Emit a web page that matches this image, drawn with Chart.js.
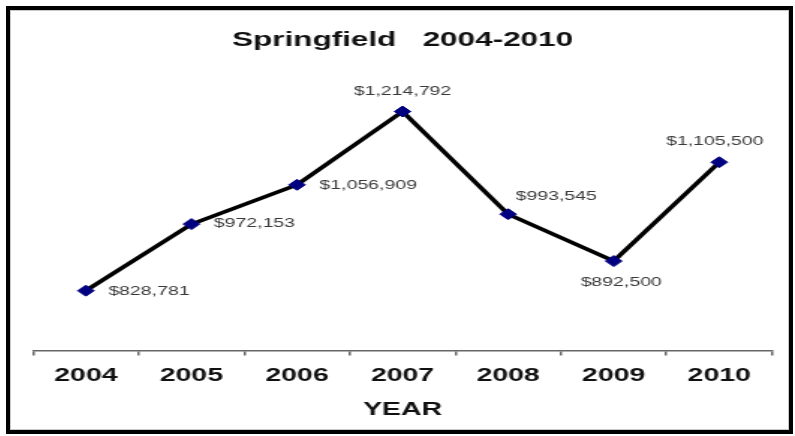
<!DOCTYPE html>
<html>
<head>
<meta charset="utf-8">
<script src="https://cdn.jsdelivr.net/npm/chart.js@4/dist/chart.umd.min.js"></script>
<style>
  html, body { margin: 0; padding: 0; background: #fff; }
  body { width: 795px; height: 436px; position: relative; overflow: hidden; }
  .frame {
    position: absolute; left: 6px; top: 6px;
    width: 779px; height: 420px;
    border: 4px solid #000;
    box-shadow: inset 0 0 0 1px #c8c8c8;
    overflow: hidden;
  }
  /* the chart is laid out narrow and widened horizontally */
  .stretch {
    position: absolute; left: 0; top: 0;
    width: 520px; height: 420px;
    transform: scaleX(1.498); transform-origin: 0 0;
  }
</style>
</head>
<body>
<div class="frame">
  <div class="stretch"><canvas id="chart"></canvas></div>
</div>
<script>
// Springfield values by year
const years = ['2004', '2005', '2006', '2007', '2008', '2009', '2010'];
const values = [828781, 972153, 1056909, 1214792, 993545, 892500, 1105500];
const chartTitle = 'Springfield   2004-2010';
const axisTitle = 'YEAR';

const FONT = '"Liberation Sans", Arial, sans-serif';

// Writes each point's dollar value next to its marker
const valueLabels = {
  id: 'valueLabels',
  afterDatasetsDraw(chart, args, opts) {
    const ctx = chart.ctx;
    const meta = chart.getDatasetMeta(0);
    const data = chart.data.datasets[0].data;
    ctx.save();
    ctx.font = opts.font;
    ctx.fillStyle = opts.color;
    ctx.textBaseline = 'middle';
    meta.data.forEach((pt, i) => {
      const p = opts.placement[i];
      ctx.textAlign = p.align;
      ctx.fillText('$' + data[i].toLocaleString('en-US'), pt.x + p.dx, pt.y + p.dy);
    });
    ctx.restore();
  }
};

new Chart(document.getElementById('chart'), {
  type: 'line',
  data: {
    labels: years,
    datasets: [{
      data: values,
      borderColor: '#000',
      borderWidth: 3.5,
      tension: 0,
      pointStyle: 'rectRot',
      pointRadius: 5.5,
      pointBackgroundColor: '#000080',
      pointBorderColor: '#000080',
      pointBorderWidth: 1
    }]
  },
  options: {
    responsive: true,
    maintainAspectRatio: false,
    animation: false,
    events: [],
    layout: { padding: { left: 15.4, right: 11.3, top: 0, bottom: 9 } },
    plugins: {
      legend: { display: false },
      tooltip: { enabled: false },
      title: {
        display: true,
        text: chartTitle,
        color: '#111',
        font: { family: FONT, size: 21, weight: 'bold' },
        padding: { top: 17.4, bottom: 19.4 }
      },
      valueLabels: {
        font: '13px ' + FONT,
        color: '#3a3a3a',
        placement: [
          { align: 'left', dx: 15, dy: 1 },
          { align: 'left', dx: 15, dy: -1 },
          { align: 'left', dx: 15, dy: 1 },
          { align: 'center', dx: 0, dy: -20 },
          { align: 'left', dx: 5, dy: -18 },
          { align: 'center', dx: 5, dy: 21 },
          { align: 'center', dx: -3, dy: -21 }
        ]
      }
    },
    scales: {
      x: {
        offset: true,
        grid: {
          display: true,
          offset: true,
          drawOnChartArea: false,
          drawTicks: true,
          tickLength: 5,
          color: '#666',
          lineWidth: 1.5
        },
        border: { display: true, color: '#666', width: 1.5 },
        ticks: {
          color: '#111',
          font: { family: FONT, size: 19, weight: 'bold' },
          padding: 9,
          autoSkip: false,
          maxRotation: 0
        },
        title: {
          display: true,
          text: axisTitle,
          color: '#111',
          font: { family: FONT, size: 19, weight: 'bold' },
          padding: { top: 2, bottom: 0 }
        }
      },
      y: { display: false, min: 700000, max: 1300000 }
    }
  },
  plugins: [valueLabels]
});
</script>
</body>
</html>
